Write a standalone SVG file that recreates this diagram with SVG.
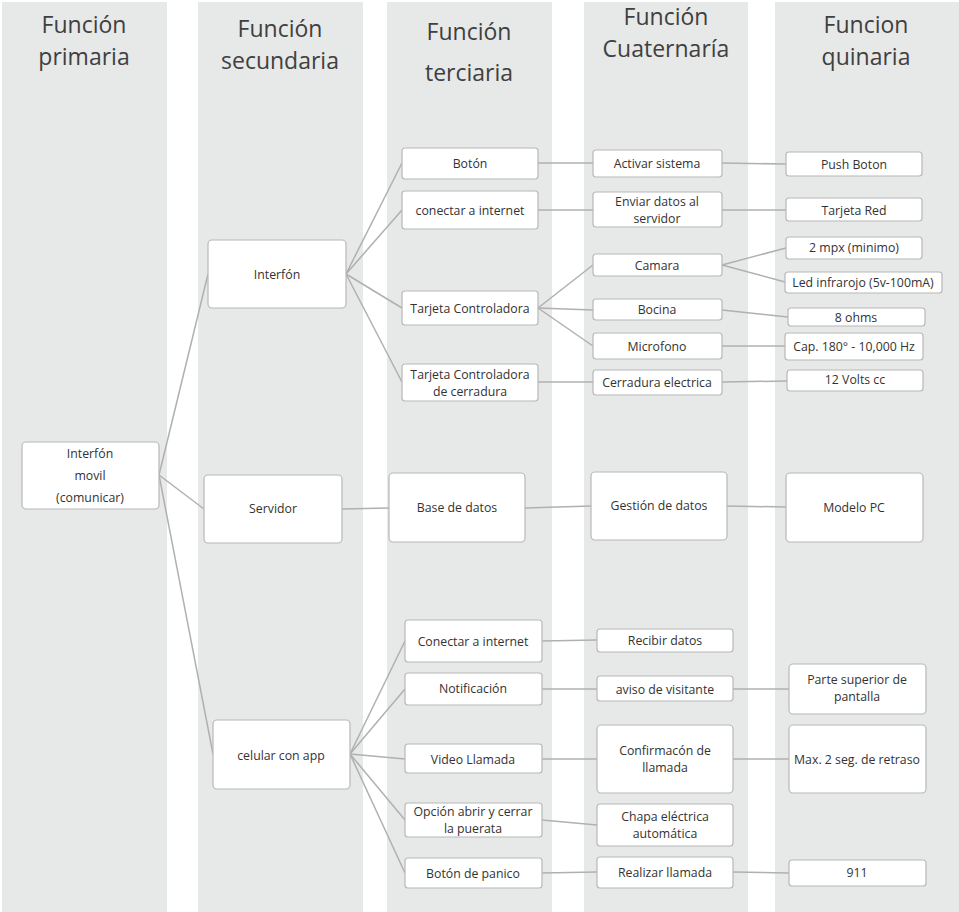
<svg xmlns="http://www.w3.org/2000/svg" width="959" height="912" viewBox="0 0 959 912">
<style>
.col{fill:#e7e8e8}
.hd{font-family:"Open Sans","Liberation Sans",sans-serif;font-size:23px;fill:#404040;text-anchor:middle}
.n rect{fill:#fff;stroke:#b8b8b8;stroke-width:1.2}
.n text{font-family:"Open Sans","Liberation Sans",sans-serif;font-size:12.3px;fill:#333;text-anchor:middle;dominant-baseline:central}
#connectors line{stroke:#b0b0b0;stroke-width:1.5;fill:none}
</style>
<rect width="959" height="912" fill="#fff"/>
<g id="columns">
<rect class="col" x="2" y="2" width="165" height="910"/>
<rect class="col" x="198" y="2" width="165" height="910"/>
<rect class="col" x="387" y="2" width="165" height="910"/>
<rect class="col" x="584" y="2" width="164" height="910"/>
<rect class="col" x="775" y="2" width="184" height="910"/>
</g>
<g id="headers">
<text class="hd" x="84" y="33">Función</text>
<text class="hd" x="84" y="65">primaria</text>
<text class="hd" x="280" y="37">Función</text>
<text class="hd" x="280" y="69">secundaria</text>
<text class="hd" x="469" y="40">Función</text>
<text class="hd" x="469" y="81">terciaria</text>
<text class="hd" x="666" y="25">Función</text>
<text class="hd" x="666" y="57">Cuaternaría</text>
<text class="hd" x="866" y="33">Funcion</text>
<text class="hd" x="866" y="65">quinaria</text>
</g>
<g id="connectors">
<line x1="159" y1="475" x2="208" y2="274"/>
<line x1="159" y1="475" x2="204" y2="509"/>
<line x1="159" y1="475" x2="213" y2="754"/>
<line x1="346" y1="274" x2="402" y2="163"/>
<line x1="346" y1="274" x2="402" y2="210"/>
<line x1="346" y1="274" x2="402" y2="308"/>
<line x1="346" y1="274" x2="402" y2="382"/>
<line x1="538" y1="163" x2="593" y2="163"/>
<line x1="538" y1="210" x2="593" y2="210"/>
<line x1="538" y1="308" x2="593" y2="265"/>
<line x1="538" y1="308" x2="593" y2="310"/>
<line x1="538" y1="308" x2="593" y2="346"/>
<line x1="538" y1="382" x2="593" y2="382"/>
<line x1="722" y1="163" x2="786" y2="164"/>
<line x1="722" y1="210" x2="786" y2="210"/>
<line x1="722" y1="265" x2="786" y2="248"/>
<line x1="722" y1="265" x2="785" y2="282"/>
<line x1="722" y1="310" x2="788" y2="317"/>
<line x1="722" y1="346" x2="785" y2="346"/>
<line x1="722" y1="382" x2="787" y2="381"/>
<line x1="342" y1="509" x2="389" y2="508"/>
<line x1="525" y1="508" x2="591" y2="506"/>
<line x1="727" y1="506" x2="786" y2="507"/>
<line x1="350" y1="754" x2="405" y2="641"/>
<line x1="350" y1="754" x2="405" y2="689"/>
<line x1="350" y1="754" x2="405" y2="759"/>
<line x1="350" y1="754" x2="405" y2="820"/>
<line x1="350" y1="754" x2="405" y2="873"/>
<line x1="542" y1="641" x2="597" y2="640"/>
<line x1="542" y1="689" x2="597" y2="689"/>
<line x1="542" y1="759" x2="597" y2="759"/>
<line x1="542" y1="820" x2="597" y2="825"/>
<line x1="542" y1="873" x2="597" y2="872"/>
<line x1="733" y1="689" x2="789" y2="689"/>
<line x1="733" y1="759" x2="789" y2="759"/>
<line x1="733" y1="872" x2="789" y2="873"/>
</g>
<g id="n-primario" class="n"><rect x="22" y="442" width="137" height="67" rx="4"/><text x="90" y="453">Interfón</text><text x="90" y="475">movil</text><text x="90" y="497">(comunicar)</text></g>
<g id="n-interfon" class="n"><rect x="208" y="240" width="138" height="68" rx="4"/><text x="277" y="274">Interfón</text></g>
<g id="n-servidor" class="n"><rect x="204" y="475" width="138" height="68" rx="4"/><text x="273" y="508">Servidor</text></g>
<g id="n-celular" class="n"><rect x="213" y="720" width="137" height="69" rx="4"/><text x="281" y="755">celular con app</text></g>
<g id="n-boton" class="n"><rect x="402" y="148" width="136" height="31" rx="3"/><text x="470" y="163">Botón</text></g>
<g id="n-conectar1" class="n"><rect x="402" y="191" width="136" height="38" rx="3"/><text x="470" y="210">conectar a internet</text></g>
<g id="n-tarjeta" class="n"><rect x="402" y="291" width="136" height="34" rx="3"/><text x="470" y="308">Tarjeta Controladora</text></g>
<g id="n-tarjeta-cerr" class="n"><rect x="402" y="364" width="136" height="37" rx="3"/><text x="470" y="374">Tarjeta Controladora</text><text x="470" y="391">de cerradura</text></g>
<g id="n-base" class="n"><rect x="389" y="473" width="136" height="69" rx="4"/><text x="457" y="507">Base de datos</text></g>
<g id="n-conectar2" class="n"><rect x="405" y="620" width="137" height="42" rx="3"/><text x="473" y="641">Conectar a internet</text></g>
<g id="n-notif" class="n"><rect x="405" y="673" width="137" height="32" rx="3"/><text x="473" y="688">Notificación</text></g>
<g id="n-video" class="n"><rect x="405" y="744" width="137" height="29" rx="3"/><text x="473" y="759">Video Llamada</text></g>
<g id="n-opcion" class="n"><rect x="405" y="803" width="137" height="34" rx="3"/><text x="473" y="811">Opción abrir y cerrar</text><text x="473" y="828">la puerata</text></g>
<g id="n-panico" class="n"><rect x="405" y="858" width="137" height="30" rx="3"/><text x="473" y="873">Botón de panico</text></g>
<g id="n-activar" class="n"><rect x="593" y="150" width="129" height="27" rx="3"/><text x="657" y="163">Activar sistema</text></g>
<g id="n-enviar" class="n"><rect x="593" y="192" width="129" height="35" rx="3"/><text x="657" y="201">Enviar datos al</text><text x="657" y="218">servidor</text></g>
<g id="n-camara" class="n"><rect x="593" y="254" width="129" height="22" rx="3"/><text x="657" y="265">Camara</text></g>
<g id="n-bocina" class="n"><rect x="593" y="299" width="129" height="21" rx="3"/><text x="657" y="309">Bocina</text></g>
<g id="n-microfono" class="n"><rect x="593" y="333" width="129" height="26" rx="3"/><text x="657" y="346">Microfono</text></g>
<g id="n-cerradura" class="n"><rect x="593" y="370" width="129" height="25" rx="3"/><text x="657" y="382">Cerradura electrica</text></g>
<g id="n-gestion" class="n"><rect x="591" y="472" width="136" height="68" rx="4"/><text x="659" y="505">Gestión de datos</text></g>
<g id="n-recibir" class="n"><rect x="597" y="629" width="136" height="23" rx="3"/><text x="665" y="640">Recibir datos</text></g>
<g id="n-aviso" class="n"><rect x="597" y="676" width="136" height="25" rx="3"/><text x="665" y="689">aviso de visitante</text></g>
<g id="n-confirm" class="n"><rect x="597" y="725" width="136" height="68" rx="4"/><text x="665" y="750">Confirmacón de</text><text x="665" y="767">llamada</text></g>
<g id="n-chapa" class="n"><rect x="597" y="804" width="136" height="42" rx="3"/><text x="665" y="816">Chapa eléctrica</text><text x="665" y="833">automática</text></g>
<g id="n-realizar" class="n"><rect x="597" y="857" width="136" height="31" rx="3"/><text x="665" y="872">Realizar llamada</text></g>
<g id="n-push" class="n"><rect x="786" y="152" width="136" height="24" rx="3"/><text x="854" y="164">Push Boton</text></g>
<g id="n-red" class="n"><rect x="786" y="198" width="136" height="23" rx="3"/><text x="854" y="210">Tarjeta Red</text></g>
<g id="n-mpx" class="n"><rect x="786" y="237" width="136" height="22" rx="3"/><text x="854" y="247">2 mpx (minimo)</text></g>
<g id="n-led" class="n"><rect x="785" y="272" width="157" height="21" rx="3"/><text x="863" y="282">Led infrarojo (5v-100mA)</text></g>
<g id="n-ohms" class="n"><rect x="788" y="308" width="137" height="18" rx="3"/><text x="856" y="317">8 ohms</text></g>
<g id="n-cap" class="n"><rect x="785" y="333" width="138" height="27" rx="3"/><text x="854" y="346">Cap. 180° - 10,000 Hz</text></g>
<g id="n-volts" class="n"><rect x="787" y="370" width="136" height="21" rx="3"/><text x="855" y="379">12 Volts cc</text></g>
<g id="n-modelo" class="n"><rect x="786" y="473" width="137" height="69" rx="4"/><text x="854" y="507">Modelo PC</text></g>
<g id="n-parte" class="n"><rect x="789" y="664" width="137" height="50" rx="4"/><text x="857" y="679">Parte superior de</text><text x="857" y="696">pantalla</text></g>
<g id="n-max" class="n"><rect x="789" y="725" width="137" height="68" rx="4"/><text x="857" y="759">Max. 2 seg. de retraso</text></g>
<g id="n-911" class="n"><rect x="789" y="860" width="137" height="26" rx="3"/><text x="857" y="872">911</text></g>
</svg>
